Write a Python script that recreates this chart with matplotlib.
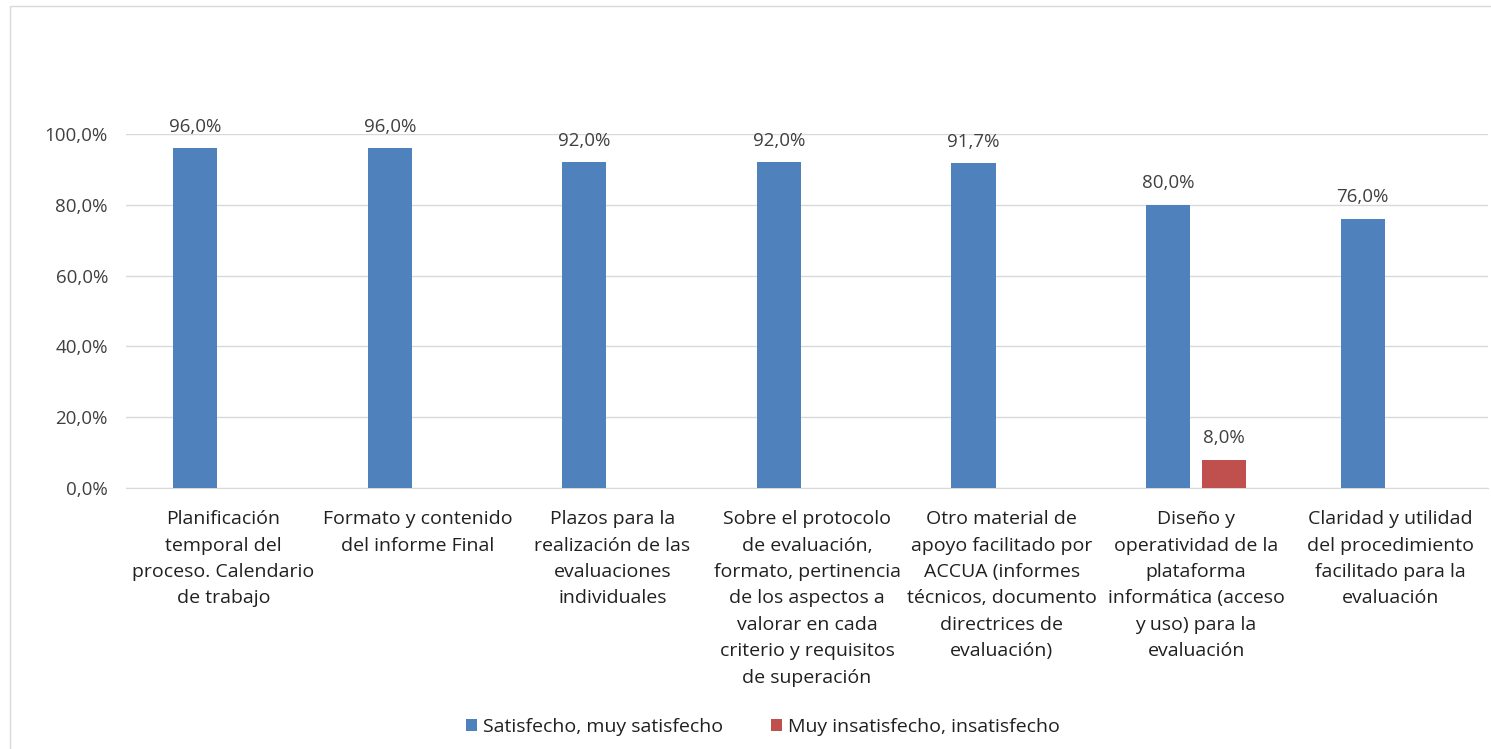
import numpy as np
import matplotlib.pyplot as plt
from matplotlib.patches import Rectangle

# categories and series values (percent)
categories = [
    "Planificación\ntemporal del\nproceso. Calendario\nde trabajo",
    "Formato y contenido\ndel informe Final",
    "Plazos para la\nrealización de las\nevaluaciones\nindividuales",
    "Sobre el protocolo\nde evaluación,\nformato, pertinencia\nde los aspectos a\nvalorar en cada\ncriterio y requisitos\nde superación",
    "Otro material de\napoyo facilitado por\nACCUA (informes\ntécnicos, documento\ndirectrices de\nevaluación)",
    "Diseño y\noperatividad de la\nplataforma\ninformática (acceso\ny uso) para la\nevaluación",
    "Claridad y utilidad\ndel procedimiento\nfacilitado para la\nevaluación",
]
satisfecho = [96.0, 96.0, 92.0, 92.0, 91.7, 80.0, 76.0]
insatisfecho = [np.nan, np.nan, np.nan, np.nan, np.nan, 8.0, np.nan]
series_names = ["Satisfecho, muy satisfecho", "Muy insatisfecho, insatisfecho"]

blue = "#4f81bd"
red = "#c0504d"
txt = "#404040"

plt.rcParams['font.family'] = ['Open Sans', 'DejaVu Sans']

fig = plt.figure(figsize=(14.91, 7.49), dpi=100)
ax = fig.add_axes([126/1491, 1-488/749, (1488-126)/1491, (488-134)/749])

x = np.arange(len(categories))
w = 0.227
off = 0.144
b1 = ax.bar(x - off, satisfecho, w, color=blue, label=series_names[0], zorder=3)
b2 = ax.bar(x + off, insatisfecho, w, color=red, label=series_names[1], zorder=3)

def fmt(v):
    return ("%.1f%%" % v).replace(".", ",")

for rects, vals in [(b1, satisfecho), (b2, insatisfecho)]:
    for r, v in zip(rects, vals):
        if np.isnan(v):
            continue
        ax.annotate(fmt(v), (r.get_x() + r.get_width()/2, v), xytext=(0, 9),
                    textcoords="offset points", ha="center", va="bottom",
                    fontsize=13.5, color=txt)

ax.set_ylim(0, 100)
ax.set_xlim(-0.5, len(categories) - 0.5)
ax.set_yticks(np.arange(0, 101, 20))
ax.set_yticklabels([fmt(v) for v in np.arange(0, 101, 20)], fontsize=13.5, color=txt)
ax.set_xticks(x)
ax.set_xticklabels(categories, fontsize=14, color="#202020", linespacing=1.6, va="top")
ax.tick_params(axis="both", length=0)
ax.tick_params(axis="x", pad=16)
ax.tick_params(axis="y", pad=13)
ax.grid(axis="y", color="#d9d9d9", linewidth=1, zorder=0)
for s in ["top", "right", "left"]:
    ax.spines[s].set_visible(False)
ax.spines["bottom"].set_color("#d9d9d9")

fig.legend(handles=[b1, b2], labels=series_names, loc="center",
           bbox_to_anchor=(763/1491, 1-727/749), ncol=2, frameon=False,
           fontsize=14, handlelength=0.55, handleheight=0.55, handletextpad=0.3,
           columnspacing=2.5, labelcolor="#202020")

# outer chart border
fig.patches.append(Rectangle((10/1491, -0.01), 1.0, 1-6/749 + 0.01,
                             transform=fig.transFigure, fill=False,
                             edgecolor="#d9d9d9", linewidth=1))

fig.savefig("out.png", dpi=100)
